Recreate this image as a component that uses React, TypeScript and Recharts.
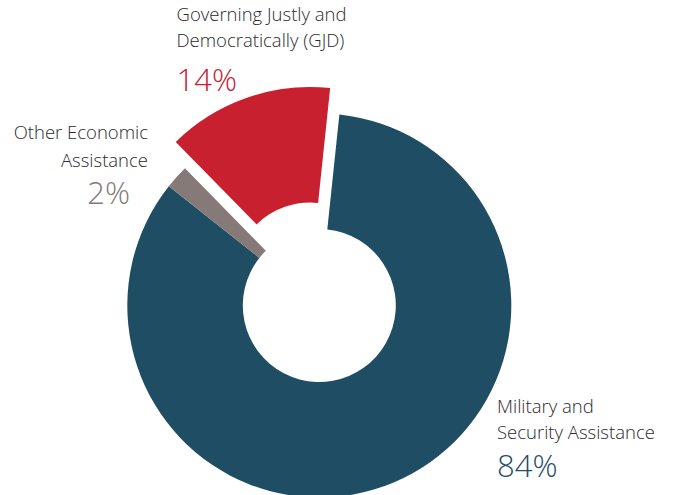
import React from "react";
import { PieChart, Pie, Cell } from "recharts";

const categories = ["Military and Security Assistance", "Other Economic Assistance", "Governing Justly and Democratically (GJD)"];
const shares = [84, 2, 14];
const labelLines = [
  ["Military and", "Security Assistance"],
  ["Other Economic", "Assistance"],
  ["Governing Justly and", "Democratically (GJD)"],
];
const pctLabels = ["84%", "2%", "14%"];
const colors = ["#1F4D63", "#857A78", "#C8202F"];

const data = categories.map((name, i) => ({ name, value: shares[i] }));

const W = 673;
const H = 495;
const CX = 319.3;
const CY = 305.5;
const START = 84;
const EXPLODE_INDEX = 2;
const EXPLODE = 28;

const total = shares.reduce((a, b) => a + b, 0);
const before = shares.slice(0, EXPLODE_INDEX).reduce((a, b) => a + b, 0);
const midAngle = START - ((before + shares[EXPLODE_INDEX] / 2) / total) * 360;
const rad = (midAngle * Math.PI) / 180;
const dx = EXPLODE * Math.cos(rad);
const dy = -EXPLODE * Math.sin(rad);

const FONT = "'Open Sans', sans-serif";
const TEXT_COLOR = "#2b2b2b";

const labelLayout: [number, "start" | "end", number, number, number][] = [
  [497, "start", 413.3, 439.3, 477.3],
  [148, "end", 139, 166.7, 204.3],
  [176.5, "start", 21, 46.7, 90.7],
];

const renderLabel = (props: any) => {
  const i = props.index;
  const [x, anchor, b1, b2, b3] = labelLayout[i];
  const pctX = i === 1 ? 130 : x;
  return (
    <g key={`lbl-${i}`}>
      <text x={x} y={b1} textAnchor={anchor} fontFamily={FONT} fontWeight={300} fontSize={18.5} fill={TEXT_COLOR}>
        {labelLines[i][0]}
      </text>
      <text x={x} y={b2} textAnchor={anchor} fontFamily={FONT} fontWeight={300} fontSize={18.5} fill={TEXT_COLOR}>
        {labelLines[i][1]}
      </text>
      <text x={pctX} y={b3} textAnchor={anchor} fontFamily={FONT} fontWeight={300} fontSize={31} fill={colors[i]}>
        {pctLabels[i]}
      </text>
    </g>
  );
};

export default function App() {
  return (
    <div style={{ position: "absolute", left: 0, top: 0, width: W, height: H, background: "#fff" }}>
      <PieChart width={W} height={H} margin={{ top: 0, right: 0, bottom: 0, left: 0 }}>
        <Pie
          data={data}
          dataKey="value"
          nameKey="name"
          cx={CX}
          cy={CY}
          innerRadius={76.5}
          outerRadius={192}
          startAngle={START}
          endAngle={START - 360}
          stroke="none"
          isAnimationActive={false}
          label={renderLabel}
          labelLine={false}
        >
          {data.map((d, i) => (
            <Cell key={d.name} fill={i === EXPLODE_INDEX ? "transparent" : colors[i]} />
          ))}
        </Pie>
        <Pie
          data={data}
          dataKey="value"
          nameKey="name"
          cx={CX + dx}
          cy={CY + dy}
          innerRadius={76.5}
          outerRadius={192}
          startAngle={START}
          endAngle={START - 360}
          stroke="none"
          isAnimationActive={false}
        >
          {data.map((d, i) => (
            <Cell key={d.name} fill={i === EXPLODE_INDEX ? colors[i] : "transparent"} />
          ))}
        </Pie>
      </PieChart>
    </div>
  );
}
